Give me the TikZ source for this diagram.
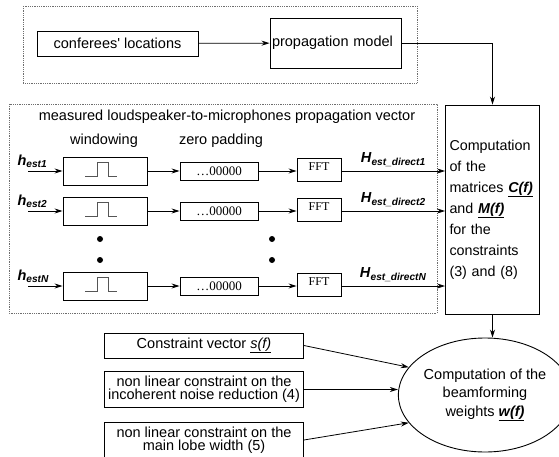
\documentclass[tikz,border=0pt]{standalone}
\usepackage{fontspec}
\setmainfont{Liberation Sans}
\newfontfamily\timesfont{Liberation Serif}
\usetikzlibrary{arrows.meta,shapes.geometric}
\definecolor{dotgray}{HTML}{6E6E6E}
\definecolor{pulsegray}{HTML}{555555}
\newcommand{\bi}[1]{\textbf{\textit{#1}}}

\begin{document}
\begin{tikzpicture}[x=1pt,y=-1pt,
    font=\fontsize{14.5}{17}\selectfont,
    box/.style={draw, line width=0.9pt, inner sep=0pt},
    link/.style={line width=0.8pt, -{Stealth[length=8pt,width=5pt]}},
    frame/.style={draw=dotgray, densely dotted, line width=0.8pt}]
  \useasboundingbox (0,0) rectangle (559,457);

  % locations and propagation model
  \draw[frame] (23,6) rectangle (417,83);
  \node[box, minimum width=161, minimum height=25] (conf) at (117.5,43.5) {conferees\textquotesingle\ locations};
  \node[box, minimum width=131, minimum height=50, text width=127, align=left, inner xsep=2pt]
    (prop) at (335.5,43) {propagation model};
  \draw[link] (conf) -- (prop);

  % measured propagation vector
  \draw[frame] (9,104) rectangle (437,313);
  \node (title) at (227,117) {measured loudspeaker-to-microphones propagation vector};
  \node (win) at (104,141) {windowing};
  \node (zero) at (221,141) {zero padding};

  \node[box, minimum width=94, minimum height=209, text width=86, align=left, inner xsep=4pt,
        font=\fontsize{14.3}{21}\selectfont] (comp) at (492.5,209.5)
    {Computation\\of the\\matrices \underline{\bi{C(f)}}\\and \underline{\bi{M(f)}}\\for the\\constraints\\(3) and (8)};
  \draw[link] (prop.east) -| (comp.north);

  \foreach \y/\n [count=\i] in {171/1,211/2,286/N}{
    \coordinate (in\i) at (28,\y);
    \node[anchor=west] (h\i) at (14,\y-10) {\bi{h}\textsubscript{\bi{est\n}}};
    \node[box, minimum width=84, minimum height=28] (win\i) at (105,\y) {};
    \draw[pulsegray, line width=0.9pt] ([shift={(-20,5)}]win\i.center) -- ++(12,0) -- ++(0,-14)
      -- ++(11,0) -- ++(0,14) -- ++(9,0);
    \node[box, minimum width=78, minimum height=18, font=\timesfont\fontsize{13}{15}\selectfont]
      (pad\i) at (219,\y) {\dots00000};
    \node[box, minimum width=44, minimum height=23, text depth=6pt, font=\timesfont\fontsize{12}{14}\selectfont]
      (fft\i) at (319,\y-1) {FFT};
    \draw[link] (in\i) -- (win\i);
    \draw[link] (win\i) -- (pad\i);
    \draw[link] (pad\i.east) -- (pad\i.east -| fft\i.west);
    \draw[link] (fft\i.east |- pad\i.east) -- (pad\i.east -| comp.west)
      node[midway, above=1pt] {\bi{H}\textsubscript{\bi{est\_direct\n}}};
  }

  % dots
  \foreach \x in {100,272}{
    \fill (\x,239) circle (3);
    \fill (\x,260) circle (3);
  }

  % constraints and beamforming weights
  \node[draw, ellipse, line width=0.9pt, minimum width=148, minimum height=114, align=center,
        inner sep=0pt, font=\fontsize{14.5}{18.5}\selectfont] (ell) at (485,395)
    {Computation of the\\beamforming\\weights \underline{\bi{w(f)}}};
  \draw[link] (comp.south) -- (comp.south |- ell.north);

  \node[box, minimum width=199, minimum height=25] (cons1) at (204,345.5)
    {Constraint vector \underline{\textit{s(f)}}};
  \node[box, minimum width=199, minimum height=36, align=center,
        font=\fontsize{14.5}{13.3}\selectfont] (cons2) at (204,389.5)
    {non linear constraint on the\\incoherent noise reduction (4)};
  \node[box, minimum width=199, minimum height=36, align=center,
        font=\fontsize{14.5}{13.3}\selectfont] (cons3) at (204,440)
    {non linear constraint on the\\main lobe width (5)};
  \draw[link] (cons1.east) -- (ell.160);
  \draw[link] (cons2.east) -- (cons2.east -| ell.west);
  \draw[link] (cons3.east) -- (ell.200);
\end{tikzpicture}
\end{document}
